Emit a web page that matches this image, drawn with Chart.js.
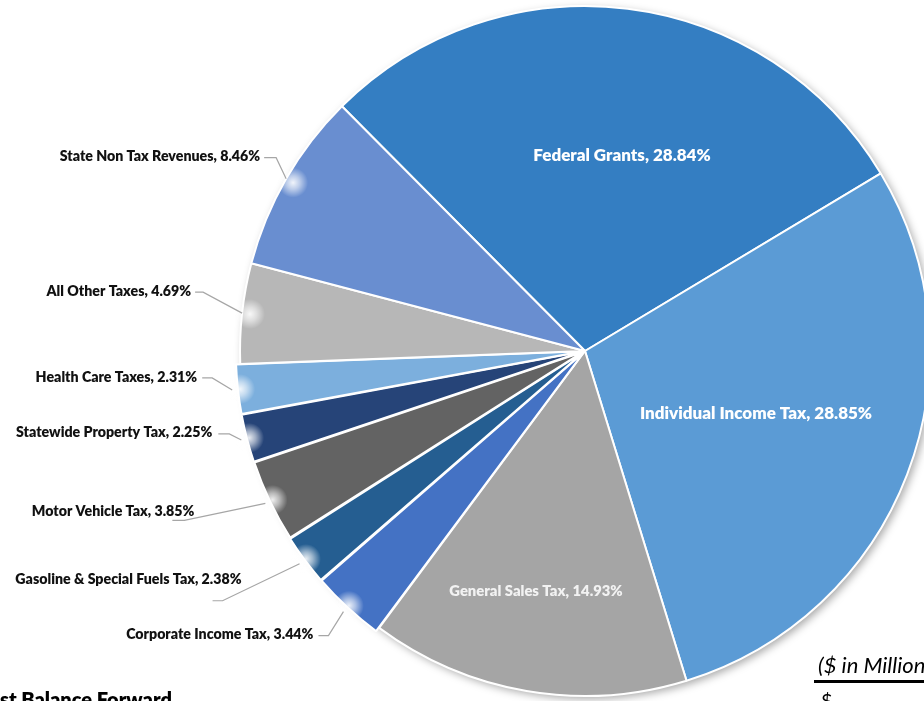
<!DOCTYPE html>
<html>
<head>
<meta charset="utf-8">
<script src="https://cdn.jsdelivr.net/npm/chart.js@4.4.1/dist/chart.umd.min.js"></script>
<style>
    html, body { margin: 0; padding: 0; background: #fff; width: 924px; height: 701px; overflow: hidden; }
    #pie { position: absolute; left: 0; top: 0; }
    .note { position: absolute; font-family: Lato, 'Noto Sans', sans-serif; color: #000; white-space: nowrap; }
</style>
</head>
<body>
<canvas id="pie" width="950" height="710"></canvas>
<div class="note" style="left:0; top:687px; font-size:20px; font-weight:800; line-height:24px;">st Balance Forward</div>
<div class="note" style="left:818px; top:652px; font-size:22px; font-style:italic; line-height:26px;">($ in Millions)</div>
<div class="note" style="left:814px; top:680px; width:120px; height:3px; background:#000;"></div>
<div class="note" style="left:821px; top:688px; font-size:20px; line-height:24px;">$</div>

<script>
var categories = ['Federal Grants', 'Individual Income Tax', 'General Sales Tax', 'Corporate Income Tax',
    'Gasoline & Special Fuels Tax', 'Motor Vehicle Tax', 'Statewide Property Tax', 'Health Care Taxes',
    'All Other Taxes', 'State Non Tax Revenues'];
var shares = [28.84, 28.85, 14.93, 3.44, 2.38, 3.85, 2.25, 2.31, 4.69, 8.46];
var sliceColors = ['#347ec2', '#5b9bd5', '#a5a5a5', '#4472c4', '#255e91', '#636363', '#264478', '#7cafdd', '#b7b7b7', '#698ed0'];
var sliceOffsets = [0, 0, 0, 10, 10, 9, 9, 9, 0, 0];

// inside labels: [dx, dy] from pie centre
// outside labels: leader start [dx, dy] from slice edge, elbow length, text end [dx, dy] from leader start
var labelLayout = [
    { inside: [37, -195], size: 17, color: '#ffffff' },
    { inside: [171, 63], size: 17, color: '#ffffff' },
    { inside: [-49, 240], size: 14.8, color: '#f2f2f2' },
    { lead: [-25, 24], elbow: 10, text: [-5, -1] },
    { lead: [-87, 37], elbow: 10, text: [29, -21] },
    { lead: [-93, 17], elbow: 12, text: [22, -9] },
    { lead: [-23, -6], elbow: 11, text: [-6, -1] },
    { lead: [-30, -12], elbow: 10, text: [-5, -1] },
    { lead: [-47, -21], elbow: 8, text: [-4, -1] },
    { lead: [-22, -21], elbow: 12, text: [-4, -1] }
];

function labelText(i) {
    return categories[i] + ', ' + shares[i].toFixed(2) + '%';
}

var pieDecor = {
    id: 'pieDecor',
    beforeDatasetsDraw: function (chart) {
        var a = chart.getDatasetMeta(0).data[0];
        var ctx = chart.ctx;
        ctx.save();
        ctx.shadowColor = 'rgba(0,0,0,0.35)';
        ctx.shadowBlur = 9;
        ctx.shadowOffsetX = 3;
        ctx.shadowOffsetY = 3;
        ctx.fillStyle = '#fff';
        ctx.beginPath();
        ctx.arc(a.x, a.y, a.outerRadius, 0, Math.PI * 2);
        ctx.fill();
        ctx.restore();
    },
    afterDatasetsDraw: function (chart) {
        var ctx = chart.ctx;
        var arcs = chart.getDatasetMeta(0).data;
        ctx.save();
        arcs.forEach(function (arc, i) {
            var lay = labelLayout[i];
            var mid = (arc.startAngle + arc.endAngle) / 2;
            ctx.font = '800 ' + (lay.size || 14.2) + 'px Lato, "Noto Sans", sans-serif';
            if (lay.inside) {
                ctx.fillStyle = lay.color;
                ctx.textAlign = 'center';
                ctx.textBaseline = 'middle';
                ctx.fillText(labelText(i), arc.x + lay.inside[0], arc.y + lay.inside[1]);
                return;
            }
            // edge point of the (exploded) slice, same maths as Chart.js ArcElement.draw
            var off = arc.options.offset || 0;
            var circ = arc.endAngle - arc.startAngle;
            var r = arc.outerRadius + off / 4 + off * (1 - Math.sin(Math.min(Math.PI, circ)));
            var ax = arc.x + Math.cos(mid) * r;
            var ay = arc.y + Math.sin(mid) * r;

            // soft white glow where the leader meets the slice
            var gx = arc.x + Math.cos(mid) * (r - 8);
            var gy = arc.y + Math.sin(mid) * (r - 8);
            var g = ctx.createRadialGradient(gx, gy, 0, gx, gy, 15);
            g.addColorStop(0, 'rgba(255,255,255,0.9)');
            g.addColorStop(0.45, 'rgba(255,255,255,0.55)');
            g.addColorStop(1, 'rgba(255,255,255,0)');
            ctx.fillStyle = g;
            ctx.beginPath();
            ctx.arc(gx, gy, 15, 0, Math.PI * 2);
            ctx.fill();

            var sx = ax + lay.lead[0], sy = ay + lay.lead[1];
            ctx.strokeStyle = '#a6a6a6';
            ctx.lineWidth = 1.2;
            ctx.beginPath();
            ctx.moveTo(sx, sy);
            ctx.lineTo(sx + lay.elbow, sy);
            ctx.lineTo(ax, ay);
            ctx.stroke();

            ctx.fillStyle = '#111';
            ctx.textAlign = 'right';
            ctx.textBaseline = 'middle';
            ctx.fillText(labelText(i), sx + lay.text[0], sy + lay.text[1]);
        });
        ctx.restore();
    }
};

new Chart(document.getElementById('pie'), {
    type: 'pie',
    data: {
        labels: categories,
        datasets: [{
            data: shares,
            backgroundColor: sliceColors,
            borderColor: '#ffffff',
            borderWidth: 2,
            offset: sliceOffsets
        }]
    },
    options: {
        responsive: false,
        animation: false,
        rotation: -44.8,
        layout: { padding: { left: 233, right: 13, top: 0, bottom: 8 } },
        plugins: {
            legend: { display: false },
            tooltip: { enabled: false }
        }
    },
    plugins: [pieDecor]
});
</script>
</body>
</html>
